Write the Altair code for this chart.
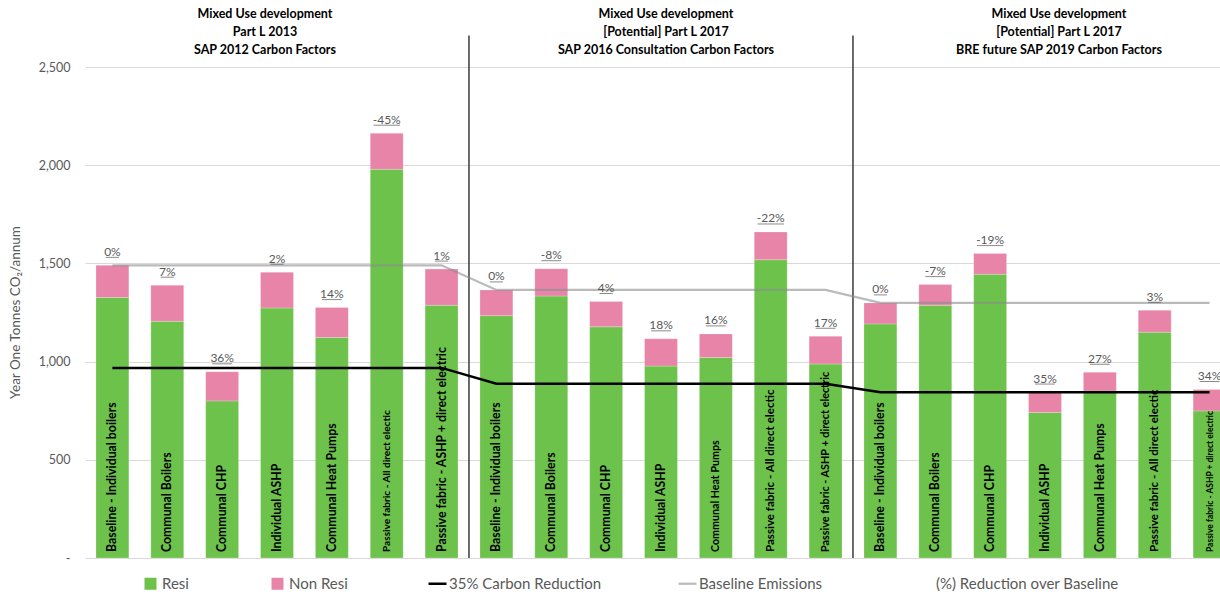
import altair as alt
import pandas as pd

# ---------------- data ----------------
group_titles = [
    "Mixed Use development\nPart L 2013\nSAP 2012 Carbon Factors",
    "Mixed Use development\n[Potential] Part L 2017\nSAP 2016 Consultation Carbon Factors",
    "Mixed Use development\n[Potential] Part L 2017\nBRE future SAP 2019 Carbon Factors",
]
options = [
    "Baseline - Individual boilers",
    "Communal Boilers",
    "Communal CHP",
    "Individual ASHP",
    "Communal Heat Pumps",
    "Passive fabric - All direct electic",
    "Passive fabric - ASHP + direct electric",
]
resi = [1326, 1205, 800, 1273, 1123, 1979, 1287,
        1234, 1334, 1177, 977, 1021, 1519, 988,
        1192, 1287, 1445, 741, 850, 1150, 749]
non_resi = [164, 184, 148, 182, 152, 184, 184,
            131, 139, 129, 139, 120, 141, 141,
            107, 105, 105, 104, 96, 111, 109]
pct_labels = ["0%", "7%", "36%", "2%", "14%", "-45%", "1%",
              "0%", "-8%", "4%", "18%", "16%", "-22%", "17%",
              "0%", "-7%", "-19%", "35%", "27%", "3%", "34%"]
baseline_by_group = [1490, 1365, 1299]
target_by_group = [968, 887, 844]

series_names = ["Resi", "Non Resi"]
line_names = ["35% Carbon Reduction", "Baseline Emissions"]
pct_name = "(%) Reduction over Baseline"

# style only: relative font size of the in-bar labels
label_scale = [1, 1, 1, 1, 1, 0.82, 1,
               1, 1, 1, 1, 0.87, 0.94, 0.88,
               1, 1, 1, 1, 1, 0.94, 0.69]

GREEN = "#6CC24B"
PINK = "#E784A7"
FONT = "Lato"
GREY_TXT = "#595959"

n_groups = len(group_titles)
n_opt = len(options)
idx = list(range(n_groups * n_opt))

# ---------------- tables ----------------
rows = []
for i in idx:
    rows.append({"idx": i, "series": "Resi", "value": resi[i], "ord": 0})
    rows.append({"idx": i, "series": "Non Resi", "value": non_resi[i], "ord": 1})
bar_df = pd.DataFrame(rows)

info_df = pd.DataFrame({
    "idx": idx,
    "label": [options[i % n_opt] for i in idx],
    "total": [resi[i] + non_resi[i] for i in idx],
    "pct": pct_labels,
    "pct_series": [pct_name] * len(idx),
    "fs": [12.3 * s for s in label_scale],
})

line_rows = []
for i in idx:
    g = i // n_opt
    line_rows.append({"idx": i, "series": line_names[0], "value": target_by_group[g]})
    line_rows.append({"idx": i, "series": line_names[1], "value": baseline_by_group[g]})
line_df = pd.DataFrame(line_rows)

div_df = pd.DataFrame({"idx": [n_opt * k for k in range(1, n_groups)]})

# ---------------- scales ----------------
x_scale = alt.Scale(domain=idx, range=[0, 1152], paddingInner=0.4, paddingOuter=0.2)
y_scale = alt.Scale(domain=[0, 2500], nice=False)
X = alt.X("idx:O", scale=x_scale, axis=None)

y_axis = alt.Axis(
    values=[0, 500, 1000, 1500, 2000, 2500],
    labelExpr="datum.value == 0 ? '-' : format(datum.value, ',')",
    grid=True, gridColor="#D9D9D9", gridWidth=1,
    domain=False, ticks=False, labelPadding=15,
    labelFont=FONT, labelFontSize=12.5, labelColor=GREY_TXT,
    title="Year One Tonnes CO₂/annum", titleFont=FONT, titleFontSize=13.5,
    titleFontWeight="normal", titleColor=GREY_TXT,
    titleX=-70, titleY=245, titleAngle=-90, titleAlign="center", titleBaseline="middle",
)

legend_common = dict(
    title=None, orient="none", direction="horizontal", labelLimit=400,
    labelFont=FONT, labelFontSize=15, labelColor=GREY_TXT,
)

bars = alt.Chart(bar_df).mark_bar(stroke="white", strokeWidth=0.4, strokeOpacity=0.6).encode(
    x=X,
    y=alt.Y("value:Q", stack="zero", scale=y_scale, axis=y_axis),
    color=alt.Color(
        "series:N",
        scale=alt.Scale(domain=series_names, range=[GREEN, PINK]),
        legend=alt.Legend(legendX=58, legendY=509, symbolType="square", symbolSize=144,
                          symbolStrokeWidth=0, columnPadding=81, labelOffset=4, **legend_common),
    ),
    order=alt.Order("ord:Q", sort="ascending"),
)

lines = alt.Chart(line_df).mark_line(interpolate="linear").encode(
    x=X,
    y=alt.Y("value:Q", scale=y_scale),
    stroke=alt.Stroke(
        "series:N",
        scale=alt.Scale(domain=line_names, range=["#000000", "rgba(140,140,140,0.6)"]),
        legend=alt.Legend(legendX=342, legendY=506, symbolType="stroke", symbolSize=324,
                          symbolStrokeWidth=2.5, columnPadding=72, labelOffset=1, **legend_common),
    ),
    strokeWidth=alt.StrokeWidth("series:N", scale=alt.Scale(domain=line_names, range=[2.5, 2.2]),
                                legend=None),
    detail="series:N",
)

dividers = alt.Chart(div_df).mark_rule(color="#3A3A3A", strokeWidth=1.5, xOffset=-11).encode(
    x=alt.X("idx:O", scale=x_scale, axis=None, bandPosition=0),
    y=alt.datum(0, scale=y_scale),
    y2=alt.datum(2660),
)

in_bar = alt.Chart(info_df).mark_text(
    angle=270, align="left", baseline="middle", dx=6, font=FONT, fontWeight="bold", color="#000000"
).encode(
    x=X,
    y=alt.datum(0, scale=y_scale),
    text="label:N",
    size=alt.Size("fs:Q", scale=None, legend=None),
)

pct_text = alt.Chart(info_df).mark_text(
    baseline="alphabetic", dy=-9.5, font=FONT, fontSize=12
).encode(
    x=X,
    y=alt.Y("total:Q", scale=y_scale),
    text="pct:N",
    fill=alt.Fill(
        "pct_series:N",
        scale=alt.Scale(domain=[pct_name], range=[GREY_TXT]),
        legend=alt.Legend(legendX=832, legendY=509, symbolOpacity=0, symbolSize=144,
                          labelOffset=4, **legend_common),
    ),
)

underline = alt.Chart(info_df).transform_calculate(
    ulw="length(datum.pct) * 6.6"
).mark_tick(orient="horizontal", thickness=1, yOffset=-8, color=GREY_TXT).encode(
    x=X,
    y=alt.Y("total:Q", scale=y_scale),
    size=alt.Size("ulw:Q", scale=None, legend=None),
)

title_dx = [-12, 5, 14]
title_layers = []
for g in range(n_groups):
    tdf = pd.DataFrame({"idx": [g * n_opt + n_opt // 2], "t": [group_titles[g]]})
    title_layers.append(
        alt.Chart(tdf).mark_text(
            lineBreak="\n", font=FONT, fontWeight="bold", fontSize=12.5, color="#000000",
            baseline="middle", lineHeight=18, dx=title_dx[g]
        ).encode(x=X, y=alt.value(-53), text="t:N")
    )

chart = alt.layer(bars, dividers, lines, in_bar, pct_text, underline, *title_layers).properties(
    width=1135, height=491,
    padding={"left": 85, "top": 67, "right": 0, "bottom": 38},
    autosize=alt.AutoSizeParams(type="none"),
    background="white",
).configure_view(stroke=None)

chart.save("out.html", embed_options={"renderer": "svg", "actions": False})
